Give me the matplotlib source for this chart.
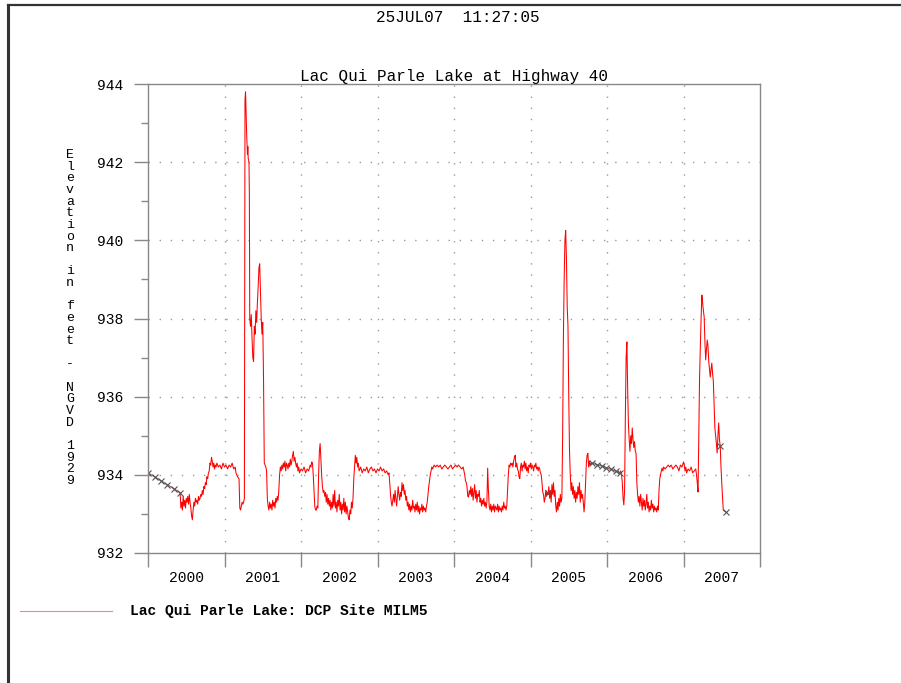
import numpy as np
import matplotlib.pyplot as plt
from matplotlib.lines import Line2D

MONO = "Liberation Mono"

# daily stage record, lake elevation in feet (NGVD 1929), decimal years
stage_a_years = [
    2000.42, 2000.43, 2000.44, 2000.45, 2000.46, 2000.47, 2000.48, 2000.49, 2000.50, 2000.51,
    2000.52, 2000.53, 2000.54, 2000.55, 2000.56, 2000.57, 2000.58, 2000.59, 2000.60, 2000.61,
    2000.62, 2000.63, 2000.64, 2000.65, 2000.66, 2000.67, 2000.68, 2000.69, 2000.70, 2000.71,
    2000.72, 2000.73, 2000.74, 2000.75, 2000.76, 2000.77, 2000.78, 2000.79, 2000.80, 2000.81,
    2000.82, 2000.83, 2000.84, 2000.85, 2000.86, 2000.87, 2000.88, 2000.89, 2000.90, 2000.92,
    2000.94, 2000.96, 2000.98, 2001.00, 2001.02, 2001.04, 2001.06, 2001.08, 2001.10, 2001.12,
    2001.14, 2001.15, 2001.16, 2001.17, 2001.19, 2001.20, 2001.21, 2001.22, 2001.23, 2001.24,
    2001.25, 2001.26, 2001.268, 2001.275, 2001.28, 2001.285, 2001.29, 2001.30, 2001.305, 2001.31,
    2001.32, 2001.325, 2001.33, 2001.34, 2001.35, 2001.36, 2001.37, 2001.38, 2001.39, 2001.40,
    2001.41, 2001.42, 2001.43, 2001.44, 2001.45, 2001.46, 2001.47, 2001.48, 2001.49, 2001.50,
    2001.51, 2001.52, 2001.53, 2001.54, 2001.55, 2001.56, 2001.57, 2001.58, 2001.59, 2001.60,
    2001.61, 2001.62, 2001.63, 2001.64, 2001.65, 2001.66, 2001.67, 2001.68, 2001.69, 2001.70,
    2001.71, 2001.72, 2001.73, 2001.74, 2001.75, 2001.76, 2001.77, 2001.78, 2001.79, 2001.80,
    2001.81, 2001.82, 2001.83, 2001.84, 2001.85, 2001.86, 2001.87, 2001.88, 2001.89, 2001.90,
    2001.91, 2001.92, 2001.93, 2001.94, 2001.95, 2001.96, 2001.97, 2001.98, 2002.00, 2002.02,
    2002.04, 2002.06, 2002.08, 2002.10, 2002.12, 2002.13, 2002.14, 2002.15, 2002.16, 2002.17,
    2002.18, 2002.19, 2002.20, 2002.21, 2002.22, 2002.23, 2002.24, 2002.25, 2002.26, 2002.27,
    2002.28, 2002.29, 2002.30, 2002.31, 2002.32, 2002.33, 2002.34, 2002.35, 2002.36, 2002.37,
    2002.38, 2002.39, 2002.40, 2002.41, 2002.42, 2002.43, 2002.44, 2002.45, 2002.46, 2002.47,
    2002.48, 2002.49, 2002.50, 2002.51, 2002.52, 2002.53, 2002.54, 2002.55, 2002.56, 2002.57,
    2002.58, 2002.59, 2002.60, 2002.61, 2002.62, 2002.63, 2002.64, 2002.65, 2002.66, 2002.67,
    2002.68, 2002.69, 2002.70, 2002.71, 2002.72, 2002.73, 2002.74, 2002.75, 2002.76, 2002.78,
    2002.80, 2002.82, 2002.84, 2002.86, 2002.88, 2002.90, 2002.92, 2002.94, 2002.96, 2002.98,
    2003.00, 2003.02, 2003.04, 2003.06, 2003.08, 2003.10, 2003.12, 2003.14, 2003.15, 2003.16,
    2003.17, 2003.18, 2003.19, 2003.20, 2003.21, 2003.22, 2003.23, 2003.24, 2003.25, 2003.26,
    2003.27, 2003.28, 2003.29, 2003.30, 2003.31, 2003.32, 2003.33, 2003.34, 2003.35, 2003.36,
    2003.37, 2003.38, 2003.39, 2003.40, 2003.41, 2003.42, 2003.43, 2003.44, 2003.45, 2003.46,
    2003.47, 2003.48, 2003.49, 2003.50, 2003.51, 2003.52, 2003.53, 2003.54, 2003.55, 2003.56,
    2003.57, 2003.58, 2003.59, 2003.60, 2003.61, 2003.62, 2003.63, 2003.64, 2003.65, 2003.66,
    2003.67, 2003.68, 2003.69, 2003.70, 2003.71, 2003.72, 2003.74, 2003.76, 2003.78, 2003.80,
    2003.82, 2003.84, 2003.86, 2003.88, 2003.90, 2003.92, 2003.94, 2003.96, 2003.98, 2004.00,
    2004.02, 2004.04, 2004.06, 2004.08, 2004.10, 2004.12, 2004.13, 2004.14, 2004.15, 2004.16,
    2004.17, 2004.18, 2004.19, 2004.20, 2004.21, 2004.22, 2004.23, 2004.24, 2004.25, 2004.26,
    2004.27, 2004.28, 2004.29, 2004.30, 2004.31, 2004.32, 2004.33, 2004.34, 2004.35, 2004.36,
    2004.37, 2004.38, 2004.39, 2004.40, 2004.41, 2004.42, 2004.43, 2004.44, 2004.45, 2004.46,
    2004.47, 2004.48, 2004.49, 2004.50, 2004.51, 2004.52, 2004.53, 2004.54, 2004.55, 2004.56,
    2004.57, 2004.58, 2004.59, 2004.60, 2004.61, 2004.62, 2004.63, 2004.64, 2004.65, 2004.66,
    2004.67, 2004.68, 2004.69, 2004.70, 2004.71, 2004.72, 2004.73, 2004.74, 2004.75, 2004.76,
    2004.77, 2004.78, 2004.79, 2004.80, 2004.81, 2004.82, 2004.83, 2004.84, 2004.85, 2004.86,
    2004.87, 2004.88, 2004.89, 2004.90, 2004.91, 2004.92, 2004.93, 2004.94, 2004.95, 2004.96,
    2004.97, 2004.98, 2004.99, 2005.00, 2005.01, 2005.02, 2005.03, 2005.04, 2005.05, 2005.06,
    2005.07, 2005.08, 2005.09, 2005.10, 2005.11, 2005.12, 2005.13, 2005.14, 2005.15, 2005.16,
    2005.17, 2005.18, 2005.19, 2005.20, 2005.21, 2005.22, 2005.23, 2005.24, 2005.25, 2005.26,
    2005.27, 2005.28, 2005.29, 2005.30, 2005.31, 2005.32, 2005.33, 2005.34, 2005.35, 2005.36,
    2005.37, 2005.38, 2005.39, 2005.40, 2005.41, 2005.42, 2005.43, 2005.44, 2005.45, 2005.46,
    2005.47, 2005.48, 2005.49, 2005.50, 2005.51, 2005.52, 2005.53, 2005.54, 2005.55, 2005.56,
    2005.57, 2005.58, 2005.59, 2005.60, 2005.61, 2005.62, 2005.63, 2005.64, 2005.65, 2005.66,
    2005.67, 2005.68, 2005.69, 2005.70, 2005.71, 2005.72, 2005.73, 2005.74, 2005.75, 2005.76,
    2005.77, 2005.78, 2005.79, 2005.80,
]
stage_a_feet = [
    933.54, 933.15, 933.30, 933.10, 933.45, 933.20, 933.35, 933.15, 933.40, 933.30,
    933.45, 933.25, 933.50, 933.30, 933.15, 932.95, 932.85, 933.10, 933.30, 933.20,
    933.40, 933.30, 933.35, 933.25, 933.45, 933.35, 933.40, 933.50, 933.45, 933.60,
    933.50, 933.70, 933.65, 933.80, 933.75, 933.95, 933.90, 934.05, 934.10, 934.30,
    934.25, 934.45, 934.35, 934.20, 934.30, 934.15, 934.25, 934.20, 934.30, 934.20,
    934.25, 934.15, 934.30, 934.20, 934.25, 934.15, 934.25, 934.20, 934.30, 934.15,
    934.20, 934.05, 934.00, 933.95, 933.90, 933.15, 933.10, 933.20, 933.30, 933.25,
    933.30, 933.40, 943.60, 943.80, 943.40, 943.00, 942.70, 942.20, 942.40, 942.10,
    942.00, 941.20, 938.00, 937.80, 938.10, 937.50, 937.00, 936.90, 937.80, 937.60,
    938.20, 937.90, 938.40, 938.80, 939.30, 939.40, 938.70, 938.00, 937.60, 937.90,
    936.50, 934.30, 934.25, 934.20, 934.10, 933.40, 933.20, 933.10, 933.30, 933.15,
    933.25, 933.10, 933.35, 933.20, 933.30, 933.15, 933.40, 933.30, 933.45, 933.35,
    933.60, 934.00, 934.20, 934.10, 934.25, 934.15, 934.30, 934.20, 934.35, 934.10,
    934.30, 934.25, 934.15, 934.30, 934.20, 934.40, 934.25, 934.35, 934.50, 934.60,
    934.35, 934.45, 934.30, 934.20, 934.30, 934.10, 934.20, 934.05, 934.15, 934.10,
    934.20, 934.05, 934.15, 934.10, 934.25, 934.20, 934.33, 934.30, 934.00, 933.60,
    933.20, 933.10, 933.10, 933.20, 933.15, 934.00, 934.60, 934.80, 934.40, 934.00,
    933.70, 933.55, 933.60, 933.45, 933.55, 933.30, 933.50, 933.25, 933.40, 933.20,
    933.35, 933.10, 933.30, 933.15, 933.50, 933.20, 933.60, 933.15, 933.30, 933.05,
    933.35, 933.20, 933.50, 933.10, 933.30, 933.00, 933.25, 933.10, 933.40, 933.05,
    933.30, 933.00, 933.20, 933.05, 932.90, 932.85, 933.10, 933.00, 933.30, 933.15,
    933.40, 933.90, 934.20, 934.50, 934.30, 934.45, 934.20, 934.30, 934.10, 934.20,
    934.05, 934.15, 934.10, 934.20, 934.05, 934.15, 934.20, 934.10, 934.15, 934.05,
    934.15, 934.10, 934.20, 934.10, 934.15, 934.05, 934.10, 934.00, 934.05, 933.80,
    933.50, 933.30, 933.20, 933.35, 933.50, 933.30, 933.60, 933.40, 933.20, 933.45,
    933.70, 933.50, 933.35, 933.55, 933.45, 933.80, 933.60, 933.75, 933.50, 933.60,
    933.35, 933.45, 933.20, 933.30, 933.10, 933.25, 933.05, 933.20, 933.10, 933.35,
    933.15, 933.20, 933.05, 933.25, 933.10, 933.30, 933.05, 933.20, 933.00, 933.15,
    933.10, 933.25, 933.05, 933.20, 933.10, 933.15, 933.05, 933.20, 933.30, 933.50,
    933.70, 933.85, 934.00, 934.10, 934.20, 934.15, 934.25, 934.20, 934.25, 934.20,
    934.25, 934.15, 934.20, 934.25, 934.20, 934.15, 934.20, 934.25, 934.15, 934.20,
    934.25, 934.20, 934.25, 934.20, 934.15, 934.20, 934.10, 934.00, 933.85, 933.80,
    933.70, 933.45, 933.43, 933.60, 933.50, 933.70, 933.45, 933.65, 933.35, 933.55,
    933.75, 933.40, 933.60, 933.30, 933.50, 933.45, 933.60, 933.30, 933.40, 933.20,
    933.35, 933.25, 933.40, 933.20, 933.30, 933.15, 933.30, 934.17, 933.60, 933.20,
    933.10, 933.25, 933.05, 933.20, 933.10, 933.25, 933.05, 933.20, 933.15, 933.10,
    933.25, 933.05, 933.20, 933.10, 933.15, 933.05, 933.20, 933.10, 933.30, 933.15,
    933.20, 933.10, 933.20, 933.60, 934.00, 934.25, 934.20, 934.30, 934.25, 934.30,
    934.20, 934.35, 934.45, 934.50, 934.20, 934.30, 934.15, 934.10, 933.95, 933.90,
    934.20, 934.30, 934.10, 934.25, 934.20, 934.35, 934.15, 934.30, 934.10, 934.20,
    934.05, 934.25, 934.20, 934.30, 934.15, 934.25, 934.20, 934.10, 934.25, 934.20,
    934.30, 934.15, 934.20, 934.10, 934.20, 934.15, 934.05, 934.00, 933.80, 933.56,
    933.50, 933.30, 933.40, 933.60, 933.45, 933.55, 933.50, 933.70, 933.40, 933.60,
    933.30, 933.75, 933.50, 933.80, 933.45, 933.60, 933.20, 933.05, 933.30, 933.10,
    933.40, 933.20, 933.50, 933.30, 933.40, 935.00, 937.50, 939.00, 940.00, 940.25,
    939.50, 938.30, 937.80, 936.00, 934.60, 934.00, 933.60, 933.80, 933.50, 933.70,
    933.40, 933.60, 933.30, 933.55, 933.40, 933.70, 933.50, 933.80, 933.30, 933.60,
    933.40, 933.50, 933.30, 933.05, 933.30, 933.80, 934.30, 934.50, 934.55, 934.20,
    934.35, 934.25, 934.30, 934.30,
]

stage_b_years = [
    2006.17, 2006.18, 2006.19, 2006.20, 2006.21, 2006.22, 2006.23, 2006.24, 2006.25, 2006.26,
    2006.27, 2006.28, 2006.29, 2006.30, 2006.31, 2006.32, 2006.33, 2006.34, 2006.35, 2006.36,
    2006.37, 2006.38, 2006.39, 2006.40, 2006.41, 2006.42, 2006.43, 2006.44, 2006.45, 2006.46,
    2006.47, 2006.48, 2006.49, 2006.50, 2006.51, 2006.52, 2006.53, 2006.54, 2006.55, 2006.56,
    2006.57, 2006.58, 2006.59, 2006.60, 2006.61, 2006.62, 2006.63, 2006.64, 2006.65, 2006.66,
    2006.67, 2006.68, 2006.69, 2006.70, 2006.71, 2006.72, 2006.73, 2006.74, 2006.76, 2006.78,
    2006.80, 2006.82, 2006.84, 2006.86, 2006.88, 2006.90, 2006.92, 2006.94, 2006.96, 2006.98,
    2007.00, 2007.01, 2007.02, 2007.03, 2007.04, 2007.06, 2007.08, 2007.10, 2007.12, 2007.14,
    2007.16, 2007.17, 2007.18, 2007.19, 2007.20, 2007.21, 2007.22, 2007.23, 2007.24, 2007.25,
    2007.26, 2007.27, 2007.28, 2007.29, 2007.30, 2007.31, 2007.32, 2007.33, 2007.34, 2007.35,
    2007.36, 2007.37, 2007.38, 2007.39, 2007.40, 2007.41, 2007.42, 2007.43, 2007.44, 2007.45,
    2007.46, 2007.47, 2007.48, 2007.49, 2007.50, 2007.51, 2007.52, 2007.53, 2007.55,
]
stage_b_feet = [
    934.05, 934.10, 934.00, 933.80, 933.40, 933.23, 933.60, 935.50, 937.00, 937.40,
    936.20, 935.30, 934.90, 934.60, 935.00, 934.80, 935.20, 934.90, 934.70, 934.85,
    934.60, 934.55, 933.80, 933.50, 933.30, 933.45, 933.20, 933.50, 933.30, 933.10,
    933.40, 933.20, 933.35, 933.10, 933.25, 933.50, 933.15, 933.30, 933.05, 933.20,
    933.10, 933.35, 933.15, 933.25, 933.05, 933.20, 933.10, 933.15, 933.05, 933.20,
    933.10, 933.60, 933.90, 934.00, 934.10, 934.17, 934.10, 934.20, 934.15, 934.20,
    934.25, 934.20, 934.25, 934.15, 934.20, 934.25, 934.20, 934.10, 934.25, 934.20,
    934.33, 934.25, 934.10, 934.20, 934.05, 934.15, 934.10, 934.20, 934.05, 934.10,
    934.15, 934.00, 933.80, 933.56, 935.00, 936.50, 937.27, 938.00, 938.60, 938.40,
    938.20, 938.04, 937.40, 936.94, 937.20, 937.45, 937.30, 936.90, 936.70, 936.50,
    936.70, 936.86, 936.60, 936.40, 935.80, 935.20, 935.00, 934.80, 934.56, 935.00,
    935.33, 934.90, 934.74, 934.20, 933.80, 933.43, 933.10, 933.08, 933.05,
]

# estimated / manual readings (gray x)
est_2000_years = [2000.00, 2000.085, 2000.17, 2000.25, 2000.335, 2000.42]
est_2000_feet = [934.05, 933.95, 933.85, 933.75, 933.65, 933.54]
est_2005_years = [2005.80, 2005.87, 2005.94, 2005.99, 2006.05, 2006.12, 2006.17]
est_2005_feet = [934.30, 934.26, 934.22, 934.18, 934.14, 934.09, 934.05]
single_years = [2005.23, 2007.48, 2007.55]
single_feet = [933.53, 934.74, 933.05]

year_labels = ["2000", "2001", "2002", "2003", "2004", "2005", "2006", "2007"]
y_major = [932, 934, 936, 938, 940, 942, 944]
y_minor = [933, 935, 937, 939, 941, 943]

fig = plt.figure(figsize=(9.01, 6.83), dpi=100)
ax = fig.add_axes([148 / 901, 1 - 553 / 683, 612 / 901, 469 / 683])

ax.plot(stage_a_years, stage_a_feet, color="red", lw=0.75)
ax.plot(stage_b_years, stage_b_feet, color="red", lw=0.75)
for xs, ys in [(est_2000_years, est_2000_feet), (est_2005_years, est_2005_feet)]:
    ax.plot(xs, ys, color="#a06060", lw=0.9, marker="x", ms=4,
            mec="#555555", mew=0.8)
ax.plot(single_years, single_feet, ls="none", marker="x", ms=4,
        mec="#555555", mew=0.8)

ax.set_xlim(2000, 2008)
ax.set_ylim(932, 944)

# year ticks on the boundaries, labels centred in each year
ax.set_xticks(np.arange(2000, 2009))
ax.set_xticklabels([])
ax.set_xticks(np.arange(2000, 2008) + 0.5, minor=True)
ax.set_xticklabels(year_labels, minor=True, fontfamily=MONO, fontsize=10.5)
ax.tick_params(axis="x", which="major", direction="out", length=10,
               width=1, color="#888888")
ax.tick_params(axis="x", which="minor", length=0, pad=13)

ax.set_yticks(y_major)
ax.set_yticklabels([str(v) for v in y_major], fontfamily=MONO, fontsize=10.5)
ax.set_yticks(y_minor, minor=True)
ax.tick_params(axis="y", which="major", direction="out", length=10,
               width=1, color="#888888", pad=8)
ax.tick_params(axis="y", which="minor", direction="out", length=5,
               width=1, color="#888888")

for sp in ax.spines.values():
    sp.set_color("#888888")
    sp.set_linewidth(1)

dots = (0, (1, 7))
for v in y_major[1:-1]:
    ax.axhline(v, color="#999999", lw=1, ls=dots, zorder=0)
for yr in range(2001, 2008):
    ax.axvline(yr, color="#999999", lw=1, ls=dots, zorder=0)

ax.set_title("Lac Qui Parle Lake at Highway 40", fontfamily=MONO,
             fontsize=11.5, pad=2)

fig.text(0.508, 1 - 17 / 683, "25JUL07  11:27:05", ha="center", va="center",
         fontfamily=MONO, fontsize=11.5)

ylab = "Elevation in feet - NGVD 1929"
fig.text(70 / 901, 1 - 318 / 683, "\n".join(ylab), ha="center", va="center",
         fontfamily=MONO, fontsize=9.5, linespacing=0.96)

# legend strip along the bottom
fig.add_artist(Line2D([20 / 901, 112 / 901], [1 - 611 / 683] * 2,
                      color="#ff8080", lw=0.8))
fig.text(130 / 901, 1 - 611 / 683, "Lac Qui Parle Lake: DCP Site MILM5",
         ha="left", va="center", fontfamily=MONO, fontsize=10.5,
         fontweight="bold")

# page frame
fig.add_artist(Line2D([8 / 901, 8 / 901], [0, 1 - 5 / 683], color="#333333", lw=2.2))
fig.add_artist(Line2D([8 / 901, 1], [1 - 5 / 683] * 2, color="#333333", lw=1.6))

fig.savefig("out.png", dpi=100)
